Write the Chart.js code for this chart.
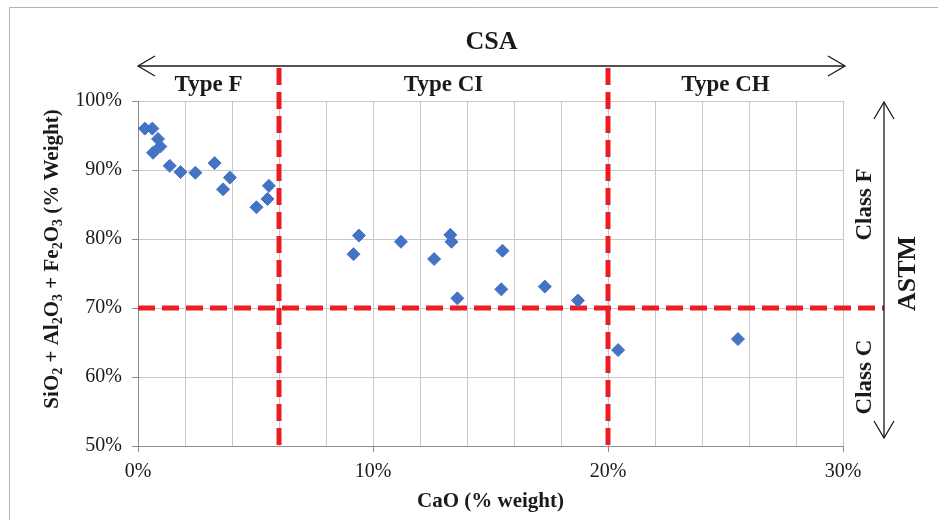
<!DOCTYPE html>
<html>
<head>
  <title>CaO vs SiO2 + Al2O3 + Fe2O3</title>
  <script src="https://cdn.jsdelivr.net/npm/chart.js@4.4.1/dist/chart.umd.min.js"></script>
  <style>
    body { margin: 0; background: #fff; }
    #wrap { width: 938px; height: 520px; }
  </style>
</head>
<body>
<div id="wrap"><canvas id="myChart" width="938" height="520"></canvas></div>

<script>
// CaO content of each fly ash sample (% weight)
const caoValues = [0.29, 0.61, 0.85, 0.95, 0.64, 1.35, 1.81, 2.44, 3.26, 3.91, 3.62, 5.04, 5.51, 5.57,
  9.17, 9.40, 11.19, 12.60, 13.29, 13.34, 13.59, 15.51, 15.46, 17.31, 18.72, 20.43, 25.53];
// SiO2 + Al2O3 + Fe2O3 for the same samples (% weight)
const oxideValues = [96.0, 96.0, 94.5, 93.4, 92.5, 90.6, 89.7, 89.6, 91.0, 88.9, 87.2, 84.6, 85.8, 87.7,
  77.8, 80.5, 79.6, 77.1, 80.6, 79.6, 71.4, 78.3, 72.7, 73.1, 71.1, 63.9, 65.5];

// CSA limits on CaO and the ASTM limit on the oxide sum
const csaLimits = [6, 20];
const csaTypes = ['Type F', 'Type CI', 'Type CH'];
const astmLimit = 70;
const astmClasses = ['Class F', 'Class C'];

const xRange = [0, 30];
const yRange = [50, 100];
const xLabelEvery = 10;

const SERIF = '"Liberation Serif", "Times New Roman", serif';
const RED = '#ED1C24';
const INK = '#1a1a1a';

function arrowHead(ctx, x, y, dx, dy) {
  const len = 17, half = 10;
  const bx = x - dx * len, by = y - dy * len;
  ctx.beginPath();
  ctx.moveTo(bx - dy * half, by + dx * half);
  ctx.lineTo(x, y);
  ctx.lineTo(bx + dy * half, by - dx * half);
  ctx.stroke();
}

function rotatedText(ctx, text, x, y, font) {
  ctx.save();
  ctx.translate(x, y);
  ctx.rotate(-Math.PI / 2);
  ctx.font = font;
  ctx.textAlign = 'center';
  ctx.textBaseline = 'alphabetic';
  ctx.fillText(text, 0, 0);
  ctx.restore();
}

// y axis title, with real subscripts
const yTitleParts = [['SiO', 0], ['2', 1], [' + Al', 0], ['2', 1], ['O', 0], ['3', 1],
  [' + Fe', 0], ['2', 1], ['O', 0], ['3', 1], [' (% Weight)', 0]];

const annotations = {
  id: 'annotations',
  beforeDraw(chart) {
    const ctx = chart.ctx;
    ctx.save();
    ctx.strokeStyle = '#b4b4b4';
    ctx.lineWidth = 1;
    ctx.beginPath();
    ctx.moveTo(9.5, 520);
    ctx.lineTo(9.5, 7.5);
    ctx.lineTo(938, 7.5);
    ctx.stroke();
    ctx.restore();
  },
  beforeDatasetsDraw(chart) {
    const {ctx, chartArea, scales: {x, y}} = chart;
    const csaTop = chartArea.top - 33;
    const astmX = chartArea.right + 41;
    ctx.save();
    ctx.strokeStyle = RED;
    ctx.lineWidth = 5;
    ctx.setLineDash([17, 7]);
    csaLimits.forEach(v => {
      const px = x.getPixelForValue(v);
      ctx.beginPath();
      ctx.moveTo(px, csaTop);
      ctx.lineTo(px, chartArea.bottom);
      ctx.stroke();
    });
    const py = y.getPixelForValue(astmLimit);
    ctx.beginPath();
    ctx.moveTo(chartArea.left, py);
    ctx.lineTo(astmX, py);
    ctx.stroke();
    ctx.restore();
  },
  afterDraw(chart) {
    const {ctx, chartArea, scales: {x, y}} = chart;
    ctx.save();
    ctx.strokeStyle = INK;
    ctx.fillStyle = INK;
    ctx.lineWidth = 1.3;

    // CSA arrow across the top
    const ay = chartArea.top - 35;
    const left = chartArea.left, right = chartArea.right + 2;
    ctx.beginPath();
    ctx.moveTo(left, ay);
    ctx.lineTo(right, ay);
    ctx.stroke();
    arrowHead(ctx, left, ay, -1, 0);
    arrowHead(ctx, right, ay, 1, 0);

    ctx.textAlign = 'center';
    ctx.textBaseline = 'alphabetic';
    ctx.font = 'bold 26px ' + SERIF;
    ctx.fillText('CSA', (left + right) / 2, 49);

    ctx.font = 'bold 23px ' + SERIF;
    const edges = [xRange[0], ...csaLimits, xRange[1]];
    csaTypes.forEach((t, i) => {
      const cx = (x.getPixelForValue(edges[i]) + x.getPixelForValue(edges[i + 1])) / 2;
      ctx.fillText(t, cx, 91);
    });

    // ASTM arrow down the right side
    const ax = chartArea.right + 41;
    const top = chartArea.top + 1, bottom = chartArea.bottom - 8;
    ctx.beginPath();
    ctx.moveTo(ax, top);
    ctx.lineTo(ax, bottom);
    ctx.stroke();
    arrowHead(ctx, ax, top, 0, -1);
    arrowHead(ctx, ax, bottom, 0, 1);

    const yEdges = [yRange[1], astmLimit, yRange[0]];
    astmClasses.forEach((c, i) => {
      const cy = (y.getPixelForValue(yEdges[i]) + y.getPixelForValue(yEdges[i + 1])) / 2;
      rotatedText(ctx, c, ax - 13, cy, 'bold 23px ' + SERIF);
    });
    rotatedText(ctx, 'ASTM', ax + 31, (chartArea.top + chartArea.bottom) / 2, 'bold 26px ' + SERIF);

    // y axis title
    ctx.save();
    ctx.translate(58, 259);
    ctx.rotate(-Math.PI / 2);
    ctx.textAlign = 'left';
    const mainFont = 'bold 21px ' + SERIF, subFont = 'bold 14px ' + SERIF;
    let total = 0;
    yTitleParts.forEach(([s, sub]) => {
      ctx.font = sub ? subFont : mainFont;
      total += ctx.measureText(s).width;
    });
    let pos = -total / 2;
    yTitleParts.forEach(([s, sub]) => {
      ctx.font = sub ? subFont : mainFont;
      ctx.fillText(s, pos, sub ? 4 : 0);
      pos += ctx.measureText(s).width;
    });
    ctx.restore();

    ctx.restore();
  }
};

Chart.defaults.font.family = SERIF;
Chart.defaults.color = INK;

new Chart('myChart', {
  type: 'scatter',
  data: {
    datasets: [{
      label: 'Fly ash',
      data: caoValues.map((v, i) => ({x: v, y: oxideValues[i]})),
      pointStyle: 'rectRot',
      pointRadius: 6.5,
      pointHoverRadius: 6.5,
      backgroundColor: '#4472C4',
      borderColor: '#4472C4',
      borderWidth: 1
    }]
  },
  options: {
    responsive: false,
    animation: false,
    devicePixelRatio: 1,
    layout: { padding: { top: 101, right: 95, left: 0, bottom: 0 } },
    plugins: {
      legend: { display: false },
      tooltip: { enabled: false }
    },
    scales: {
      x: {
        type: 'linear',
        min: xRange[0],
        max: xRange[1],
        afterFit: s => { s.height = 74; },
        border: { color: '#8c8c8c', width: 1 },
        grid: {
          color: '#c8c8c8',
          tickLength: 6,
          tickColor: c => (c.tick && c.tick.value % xLabelEvery === 0) ? '#8c8c8c' : 'rgba(0,0,0,0)'
        },
        ticks: {
          stepSize: 2,
          autoSkip: false,
          maxRotation: 0,
          padding: 8,
          font: { size: 20 },
          callback: v => v % xLabelEvery === 0 ? v + '%' : ''
        },
        title: {
          display: true,
          text: 'CaO (% weight)',
          font: { size: 21, weight: 'bold' },
          padding: { top: 0, bottom: 6 }
        }
      },
      y: {
        min: yRange[0],
        max: yRange[1],
        afterFit: s => { s.width = 138; },
        border: { color: '#8c8c8c', width: 1 },
        grid: { color: '#c8c8c8', tickLength: 6, tickColor: '#8c8c8c' },
        ticks: {
          stepSize: 10,
          padding: 10,
          font: { size: 20 },
          callback: v => v + '%'
        }
      }
    }
  },
  plugins: [annotations]
});
</script>
</body>
</html>
